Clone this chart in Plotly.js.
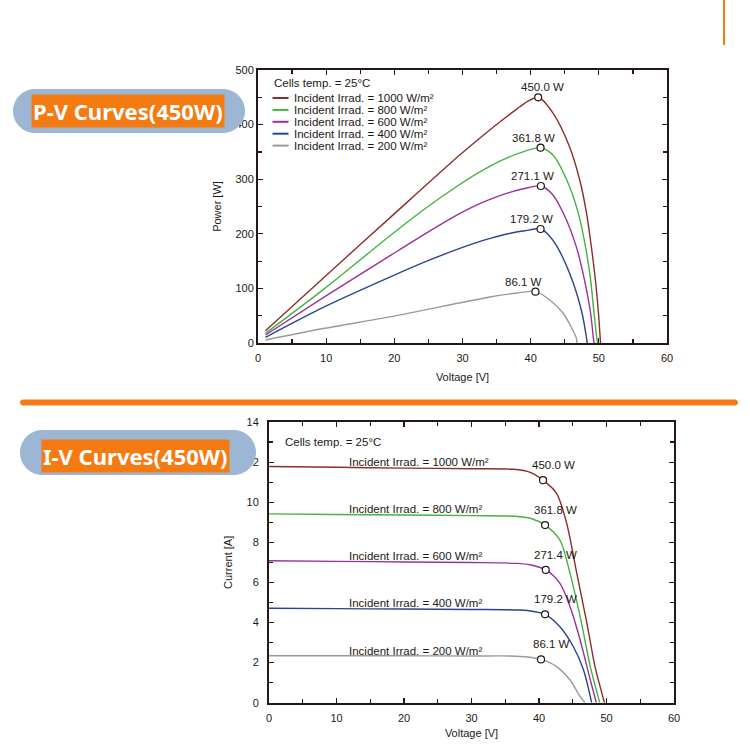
<!DOCTYPE html>
<html>
<head>
<meta charset="utf-8">
<script src="https://cdn.plot.ly/plotly-3.0.1.min.js"></script>
<style>
  html, body { margin: 0; padding: 0; background: #fff; }
  #chart { width: 750px; height: 750px; }
</style>
</head>
<body>
<div id="chart"></div>
<script>
// series names and colours
const irradiance = [1000, 800, 600, 400, 200];
const curveColors = ['#8a2f2b', '#43b43f', '#9b309c', '#2b4391', '#9a9a9a'];

// P-V curves, voltage [V] / power [W]
const pv1000V = [1.1, 9.8, 19.5, 29.3, 33.0, 35.7, 37.9, 39.5, 41.1, 43.3, 45.7, 47.2, 48.2, 48.9, 49.5, 49.95, 50.2, 50.25];
const pv1000P = [22.5, 121.5, 231, 341, 380, 407, 428, 442, 450, 420.7, 359.5, 298.5, 237.5, 176.4, 115, 54, 9, 0];
const pv800V = [1.1, 9.8, 19.5, 24.4, 29.3, 31.8, 34.2, 36.7, 39.1, 41.45, 43.3, 45.3, 47.0, 48.05, 48.8, 49.3, 49.7, 49.8];
const pv800P = [17.7, 100, 197.8, 245, 288, 308, 325, 340, 351, 357.7, 344, 298.5, 237.5, 176, 115, 54, 9, 0];
const pv600V = [1.1, 9.8, 19.5, 24.4, 29.3, 31.8, 34.2, 36.7, 39.1, 41.5, 43.2, 44.8, 46.7, 47.9, 48.8, 49.2, 49.3];
const pv600P = [14.6, 84.8, 161, 199, 235, 251, 264, 275, 283, 287.5, 272, 237.5, 176, 115, 54, 9, 0];
const pv400V = [1.1, 9.8, 19.5, 24.4, 29.3, 31.8, 34.2, 36.7, 39.1, 41.45, 42.7, 43.9, 46.1, 47.55, 48.2, 48.3];
const pv400P = [10.4, 66.5, 121.5, 148, 172, 183, 192, 200, 205.5, 208.8, 197, 176, 115, 54, 9, 0];
const pv200V = [1.1, 9.8, 19.5, 29.3, 34.2, 38.0, 40.7, 42.8, 44.8, 46.0, 46.7, 46.8];
const pv200P = [5.5, 26.9, 48.2, 72.7, 84.8, 91.5, 94, 78.8, 54, 28, 9, 0];

const pvPeakV = [41.1, 41.45, 41.5, 41.45, 40.7];
const pvPeakP = [450, 357.7, 287.5, 208.8, 94];
const pvPeakLabels = ['450.0 W', '361.8 W', '271.1 W', '179.2 W', '86.1 W'];

// I-V curves, voltage [V] / current [A]
const iv1000V = [0, 10, 20, 30, 36.2, 38.7, 40.6, 42.6, 44.1, 45.6, 47.1, 48.3, 49.7];
const iv1000I = [11.78, 11.74, 11.7, 11.67, 11.64, 11.49, 11.1, 10.44, 8.95, 6.45, 3.96, 1.8, 0];
const iv800V = [0, 10, 20, 30, 36.5, 38.7, 40.9, 43.1, 44.6, 46.1, 47.6, 49.0];
const iv800I = [9.42, 9.39, 9.36, 9.33, 9.3, 9.2, 8.86, 8.11, 6.45, 4.29, 1.8, 0];
const iv600V = [0, 10, 20, 30, 36.5, 38.7, 41.0, 43.1, 44.6, 46.1, 47.6, 48.5];
const iv600I = [7.08, 7.05, 7.02, 6.99, 6.95, 6.88, 6.62, 5.95, 4.79, 3.13, 1.13, 0];
const iv400V = [0, 10, 20, 30, 37.2, 39.2, 40.9, 43.1, 45.1, 46.6, 47.8];
const iv400I = [4.71, 4.69, 4.67, 4.65, 4.62, 4.55, 4.41, 3.79, 2.79, 1.63, 0];
const iv200V = [0, 10, 20, 30, 35.7, 38.3, 40.3, 42.6, 44.6, 46.1, 46.8];
const iv200I = [2.34, 2.34, 2.34, 2.33, 2.33, 2.28, 2.16, 1.8, 1.13, 0.3, 0];

const ivPeakV = [40.6, 40.9, 41.0, 40.9, 40.3];
const ivPeakI = [11.1, 8.86, 6.62, 4.41, 2.16];
const ivPeakLabels = ['450.0 W', '361.8 W', '271.4 W', '179.2 W', '86.1 W'];

const pvV = [pv1000V, pv800V, pv600V, pv400V, pv200V];
const pvP = [pv1000P, pv800P, pv600P, pv400P, pv200P];
const ivV = [iv1000V, iv800V, iv600V, iv400V, iv200V];
const ivI = [iv1000I, iv800I, iv600I, iv400I, iv200I];

// label nudges (px) for the P-V peak values
const pvLabelShift = [4, -7, -8, -9, -12];

const ink = '#231815';
const orange = '#f47a12';
const font = 'Liberation Sans, Arial, sans-serif';

// pixel -> paper helpers (page is 750x750, no margins)
const X = p => p / 750;
const Y = p => 1 - p / 750;

function pillPath(x0, y0, x1, y1) {
  const r = (y1 - y0) / 2, k = 0.5523 * r, m = y0 + r;
  const pts = [
    'M', X(x0 + r), Y(y0), 'L', X(x1 - r), Y(y0),
    'C', X(x1 - r + k), Y(y0), X(x1), Y(m - k), X(x1), Y(m),
    'C', X(x1), Y(m + k), X(x1 - r + k), Y(y1), X(x1 - r), Y(y1),
    'L', X(x0 + r), Y(y1),
    'C', X(x0 + r - k), Y(y1), X(x0), Y(m + k), X(x0), Y(m),
    'C', X(x0), Y(m - k), X(x0 + r - k), Y(y0), X(x0 + r), Y(y0), 'Z'
  ];
  return pts.join(' ');
}

function note(px, py, text, anchor) {
  return {
    x: X(px), y: Y(py), xref: 'paper', yref: 'paper', xanchor: anchor || 'left', yanchor: 'middle',
    text: text, showarrow: false, font: { family: font, size: 11.5, color: ink }
  };
}

const data = [];
const annotations = [];
const shapes = [];

irradiance.forEach((irr, i) => {
  data.push({
    x: pvV[i], y: pvP[i], xaxis: 'x', yaxis: 'y',
    type: 'scatter', mode: 'lines', hoverinfo: 'skip',
    line: { color: curveColors[i], width: 1.4, shape: 'spline', smoothing: 0.8 }
  });
  data.push({
    x: ivV[i], y: ivI[i], xaxis: 'x2', yaxis: 'y2',
    type: 'scatter', mode: 'lines', hoverinfo: 'skip',
    line: { color: curveColors[i], width: 1.4, shape: 'spline', smoothing: 0.8 }
  });

  annotations.push({
    x: pvPeakV[i], y: pvPeakP[i], xref: 'x', yref: 'y', text: pvPeakLabels[i],
    showarrow: false, xshift: pvLabelShift[i], yshift: 10, font: { family: font, size: 11.5, color: ink }
  });
  annotations.push({
    x: ivPeakV[i], y: ivPeakI[i], xref: 'x2', yref: 'y2', text: ivPeakLabels[i],
    showarrow: false, xshift: 10, yshift: 15, font: { family: font, size: 11.5, color: ink }
  });
  annotations.push({
    x: 11.5, y: ivI[i][0], xref: 'x2', yref: 'y2', xanchor: 'left', yanchor: 'middle',
    text: 'Incident Irrad. = ' + irr + ' W/m²',
    showarrow: false, yshift: 5, font: { family: font, size: 11.5, color: ink }
  });

  // hand-made legend of the P-V chart
  const rowY = 98 + 11.9 * i;
  shapes.push({
    type: 'line', xref: 'paper', yref: 'paper',
    x0: X(272.5), x1: X(288.5), y0: Y(rowY), y1: Y(rowY),
    line: { color: curveColors[i], width: 2 }
  });
  annotations.push(note(292, rowY, 'Incident Irrad. = ' + irr + ' W/m²'));
});

// maximum power points
data.push({
  x: pvPeakV, y: pvPeakP, xaxis: 'x', yaxis: 'y', type: 'scatter', mode: 'markers', hoverinfo: 'skip',
  marker: { symbol: 'circle', size: 7, color: '#fff', line: { color: ink, width: 1.2 } }
});
data.push({
  x: ivPeakV, y: ivPeakI, xaxis: 'x2', yaxis: 'y2', type: 'scatter', mode: 'markers', hoverinfo: 'skip',
  marker: { symbol: 'circle', size: 7, color: '#fff', line: { color: ink, width: 1.2 } }
});

annotations.push(note(272, 82.7, 'Cells temp. = 25°C'));
annotations.push(note(283, 441.7, 'Cells temp. = 25°C'));

// badges and page decoration
shapes.push({ type: 'path', xref: 'paper', yref: 'paper', layer: 'above', path: pillPath(13, 89, 245, 133), fillcolor: '#9db6d3', line: { width: 0 } });
shapes.push({ type: 'path', xref: 'paper', yref: 'paper', layer: 'above', path: pillPath(20, 430, 256, 475), fillcolor: '#9db6d3', line: { width: 0 } });
shapes.push({ type: 'path', xref: 'paper', yref: 'paper', layer: 'above', path: pillPath(20, 399.5, 738, 405.5), fillcolor: orange, line: { width: 0 } });
shapes.push({ type: 'line', xref: 'paper', yref: 'paper', x0: X(724), x1: X(724), y0: Y(0), y1: Y(45), line: { color: orange, width: 2 } });

const badgeFont = { family: 'Noto Sans, sans-serif', size: 22, color: '#fff' };
annotations.push({
  x: X(127.5), y: Y(111.2), xref: 'paper', yref: 'paper', xanchor: 'center', yanchor: 'middle',
  text: '<b>P-V Curves(450W)</b>', showarrow: false, bgcolor: orange, borderpad: 1, font: badgeFont
});
annotations.push({
  x: X(135.5), y: Y(455.7), xref: 'paper', yref: 'paper', xanchor: 'center', yanchor: 'middle',
  text: '<b>I-V Curves(450W)</b>', showarrow: false, bgcolor: orange, borderpad: 1, font: badgeFont
});

function axisStyle(extra) {
  return Object.assign({
    showline: true, linewidth: 2, linecolor: ink, mirror: 'allticks',
    ticks: 'inside', ticklen: 5, tickwidth: 1.2, tickcolor: ink,
    showgrid: false, zeroline: false, fixedrange: true,
    tickfont: { family: font, size: 11, color: ink }
  }, extra);
}

const layout = {
  width: 750, height: 750,
  margin: { l: 0, r: 0, t: 0, b: 0 },
  paper_bgcolor: '#fff', plot_bgcolor: '#fff',
  showlegend: false,
  font: { family: font, color: ink },
  xaxis: axisStyle({
    domain: [X(258), X(667)], anchor: 'y', range: [0, 60], dtick: 10,
    minor: { dtick: 5, ticks: 'inside', ticklen: 4, tickcolor: ink, showgrid: false },
    ticklabelstandoff: 4,
    title: { text: 'Voltage [V]', font: { family: font, size: 11, color: ink }, standoff: 10 }
  }),
  yaxis: axisStyle({
    domain: [Y(343), Y(70)], anchor: 'x', range: [0, 500], dtick: 100,
    minor: { dtick: 50, ticks: 'inside', ticklen: 4, tickcolor: ink, showgrid: false },
    title: { text: 'Power [W]', font: { family: font, size: 11, color: ink }, standoff: 12 }
  }),
  xaxis2: axisStyle({
    domain: [X(269), X(674)], anchor: 'y2', range: [0, 60], dtick: 10,
    minor: { dtick: 5, ticks: 'inside', ticklen: 4, tickcolor: ink, showgrid: false },
    ticklabelstandoff: 4,
    title: { text: 'Voltage [V]', font: { family: font, size: 11, color: ink }, standoff: 6 }
  }),
  yaxis2: axisStyle({
    domain: [Y(702.7), Y(422)], anchor: 'x2', range: [0, 14], dtick: 2,
    minor: { dtick: 1, ticks: 'inside', ticklen: 4, tickcolor: ink, showgrid: false },
    ticklabelstandoff: 6,
    title: { text: 'Current [A]', font: { family: font, size: 11, color: ink }, standoff: 12 }
  }),
  shapes: shapes,
  annotations: annotations
};

Plotly.newPlot('chart', data, layout, { displayModeBar: false, staticPlot: true });
</script>
</body>
</html>
